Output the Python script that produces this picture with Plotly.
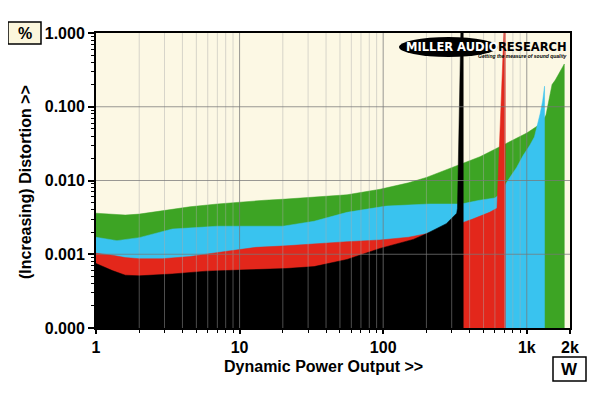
import plotly.graph_objects as go

# ---------------- data ----------------
FLOOR = 1e-5  # below visible range, used to close the filled areas

green_x = [1, 1.25, 1.6, 2, 3, 4.5, 7, 10, 15, 21, 35, 56, 95, 150, 200, 325, 472, 725, 1000,
           1170, 1280, 1360, 1420, 1500, 1580, 1700, 1780, 1825]
green_y = [0.0036, 0.0035, 0.0034, 0.0035, 0.0039, 0.0044, 0.0048, 0.0051, 0.0054, 0.0056, 0.0060,
           0.0064, 0.0076, 0.0093, 0.011, 0.016, 0.021, 0.032, 0.044,
           0.054, 0.062, 0.077, 0.12, 0.20, 0.23, 0.30, 0.35, 0.38]

cyan_x = [1, 1.4, 2, 2.6, 3.4, 5, 7, 10, 20, 33, 56, 105, 210, 325, 370, 470, 600, 650, 700,
          770, 850, 945, 1050, 1130, 1200, 1240, 1290, 1330]
cyan_y = [0.0017, 0.00153, 0.00168, 0.0019, 0.0022, 0.0023, 0.0024, 0.0024, 0.0024, 0.0028,
          0.0037, 0.0045, 0.0048, 0.0048, 0.0049, 0.0054, 0.0058, 0.0065, 0.0085,
          0.0113, 0.015, 0.022, 0.030, 0.039, 0.060, 0.081, 0.12, 0.19]

red_x = [1, 1.3, 1.6, 2, 2.9, 4.5, 7.7, 13, 21, 35, 56, 95, 150, 200, 260, 320, 361, 420, 480,
         550, 620, 696, 708]
red_y = [0.00103, 0.00097, 0.0009, 0.00087, 0.00087, 0.00093, 0.00108, 0.00124, 0.0013, 0.0014,
         0.00148, 0.00156, 0.0017, 0.0019, 0.0022, 0.0025, 0.0027, 0.0030, 0.0033,
         0.0037, 0.0042, 1.3, 1.3]

black_x = [1, 1.3, 1.6, 2, 3.4, 5.9, 10, 21, 33, 56, 95, 162, 200, 275, 325, 329, 348, 361]
black_y = [0.00075, 0.0006, 0.00052, 0.00051, 0.00054, 0.00059, 0.00061, 0.00064, 0.00068,
           0.00085, 0.0012, 0.00159, 0.0019, 0.0026, 0.0036, 0.0042, 1.3, 1.3]

x_tickvals = [1, 10, 100, 1000, 2000]
x_ticktext = ["1", "10", "100", "1k", "2k"]
y_tickvals = [0.0001, 0.001, 0.01, 0.1, 1]
y_ticktext = ["0.000", "0.001", "0.010", "0.100", "1.000"]

x_minor = [k * 10 ** d for d in range(0, 4) for k in range(2, 10) if k * 10 ** d < 2000]
y_minor = [k * 10.0 ** d for d in range(-4, 0) for k in range(2, 10)]
x_grid_major = [10, 100, 1000]
y_grid_major = [0.001, 0.01, 0.1]

series = [
    ("green", green_x, green_y, "#3da424"),
    ("cyan", cyan_x, cyan_y, "#39c3ef"),
    ("red", red_x, red_y, "#e3271b"),
    ("black", black_x, black_y, "#000000"),
]

FONT = "Liberation Sans, Arial, sans-serif"

fig = go.Figure()
for name, xs, ys, col in series:
    px = list(xs) + [xs[-1], xs[0]]
    py = list(ys) + [FLOOR, FLOOR]
    fig.add_trace(go.Scatter(x=px, y=py, mode="lines", fill="toself", fillcolor=col,
                             line=dict(color=col, width=0.5), name=name, hoverinfo="skip"))

shapes = []
for v in x_minor:
    if v in x_grid_major:
        continue
    shapes.append(dict(type="line", xref="x", yref="paper", x0=v, x1=v, y0=0, y1=1,
                       line=dict(color="rgba(170,170,170,0.45)", width=1), layer="above"))
for v in x_grid_major:
    shapes.append(dict(type="line", xref="x", yref="paper", x0=v, x1=v, y0=0, y1=1,
                       line=dict(color="rgba(120,120,120,0.75)", width=1), layer="above"))
for v in y_grid_major:
    shapes.append(dict(type="line", xref="paper", yref="y", x0=0, x1=1, y0=v, y1=v,
                       line=dict(color="rgba(120,120,120,0.75)", width=1), layer="above"))

# positions below are given in page pixels (plot area spans x 96..570, y 33..328)
def PX(p):
    return (p - 96) / 474


def PY(p):
    return (328 - p) / 295


# logo ellipse
shapes.append(dict(type="circle", xref="paper", yref="paper", x0=PX(399), x1=PX(498),
                   y0=PY(57), y1=PY(37), fillcolor="black", line=dict(color="black", width=0),
                   layer="above"))
# unit boxes
shapes.append(dict(type="rect", xref="paper", yref="paper", x0=PX(8), x1=PX(41),
                   y0=PY(44), y1=PY(22), fillcolor="#fbf6dc",
                   line=dict(color="black", width=1.5)))
shapes.append(dict(type="rect", xref="paper", yref="paper", x0=PX(553), x1=PX(586),
                   y0=PY(381), y1=PY(357), fillcolor="white",
                   line=dict(color="black", width=1.5)))

annotations = [
    dict(text="<b>MILLER AUDIO</b>", xref="paper", yref="paper", x=PX(452), y=PY(47), showarrow=False,
         font=dict(family="DejaVu Sans", size=11.5, color="white"), xanchor="center", yanchor="middle"),
    dict(text="<b>RESEARCH</b>", xref="paper", yref="paper", x=PX(569), y=PY(47), showarrow=False,
         font=dict(family="DejaVu Sans", size=11.5, color="black"), xanchor="right", yanchor="middle"),
    dict(text="<b><i>Getting the measure of sound quality</i></b>", xref="paper", yref="paper",
         x=PX(569), y=PY(56), showarrow=False,
         font=dict(family="Liberation Sans Narrow, Liberation Sans", size=5, color="black"),
         xanchor="right", yanchor="middle"),
    dict(text="<b>%</b>", xref="paper", yref="paper", x=PX(24.5), y=PY(33),
         showarrow=False, font=dict(family=FONT, size=16, color="black"),
         xanchor="center", yanchor="middle"),
    dict(text="<b>W</b>", xref="paper", yref="paper", x=PX(569.5), y=PY(369),
         showarrow=False, font=dict(family=FONT, size=17, color="black"),
         xanchor="center", yanchor="middle"),
    dict(text="<b>Dynamic Power Output >></b>", xref="paper", yref="paper",
         x=PX(323), y=PY(366), showarrow=False,
         font=dict(family=FONT, size=16, color="black"), xanchor="center", yanchor="middle"),
    dict(text="<b>(Increasing) Distortion >></b>", xref="paper", yref="paper",
         x=PX(25), y=PY(182), showarrow=False, textangle=-90,
         font=dict(family=FONT, size=16, color="black"), xanchor="center", yanchor="middle"),
]

# the page body adds an 8px offset, so margins are reduced accordingly
fig.update_layout(
    width=600, height=393,
    margin=dict(l=88, r=38, t=25, b=73),
    paper_bgcolor="white",
    plot_bgcolor="#fcf8e4",
    showlegend=False,
    shapes=shapes,
    annotations=annotations,
    xaxis=dict(type="log", range=[0, 3.30103], tickvals=x_tickvals, ticktext=x_ticktext,
               showgrid=False, zeroline=False, showline=True, mirror=True, linecolor="black",
               linewidth=2, ticks="outside", ticklen=4, tickwidth=1.5, tickcolor="black",
               tickfont=dict(family=FONT, size=16, color="black", weight="bold"),
               minor=dict(tickvals=x_minor, ticks="outside", ticklen=3, tickwidth=1,
                          tickcolor="black", showgrid=False),
               layer="above traces", fixedrange=True),
    yaxis=dict(type="log", range=[-4, 0], tickvals=y_tickvals, ticktext=y_ticktext,
               showgrid=False, zeroline=False, showline=True, mirror=True, linecolor="black",
               linewidth=2, ticks="outside", ticklen=6, tickwidth=1.5, tickcolor="black",
               tickfont=dict(family=FONT, size=16, color="black", weight="bold"),
               minor=dict(tickvals=y_minor, ticks="outside", ticklen=3, tickwidth=1,
                          tickcolor="black", showgrid=False),
               layer="above traces", fixedrange=True),
)

fig.write_html("out.html")
